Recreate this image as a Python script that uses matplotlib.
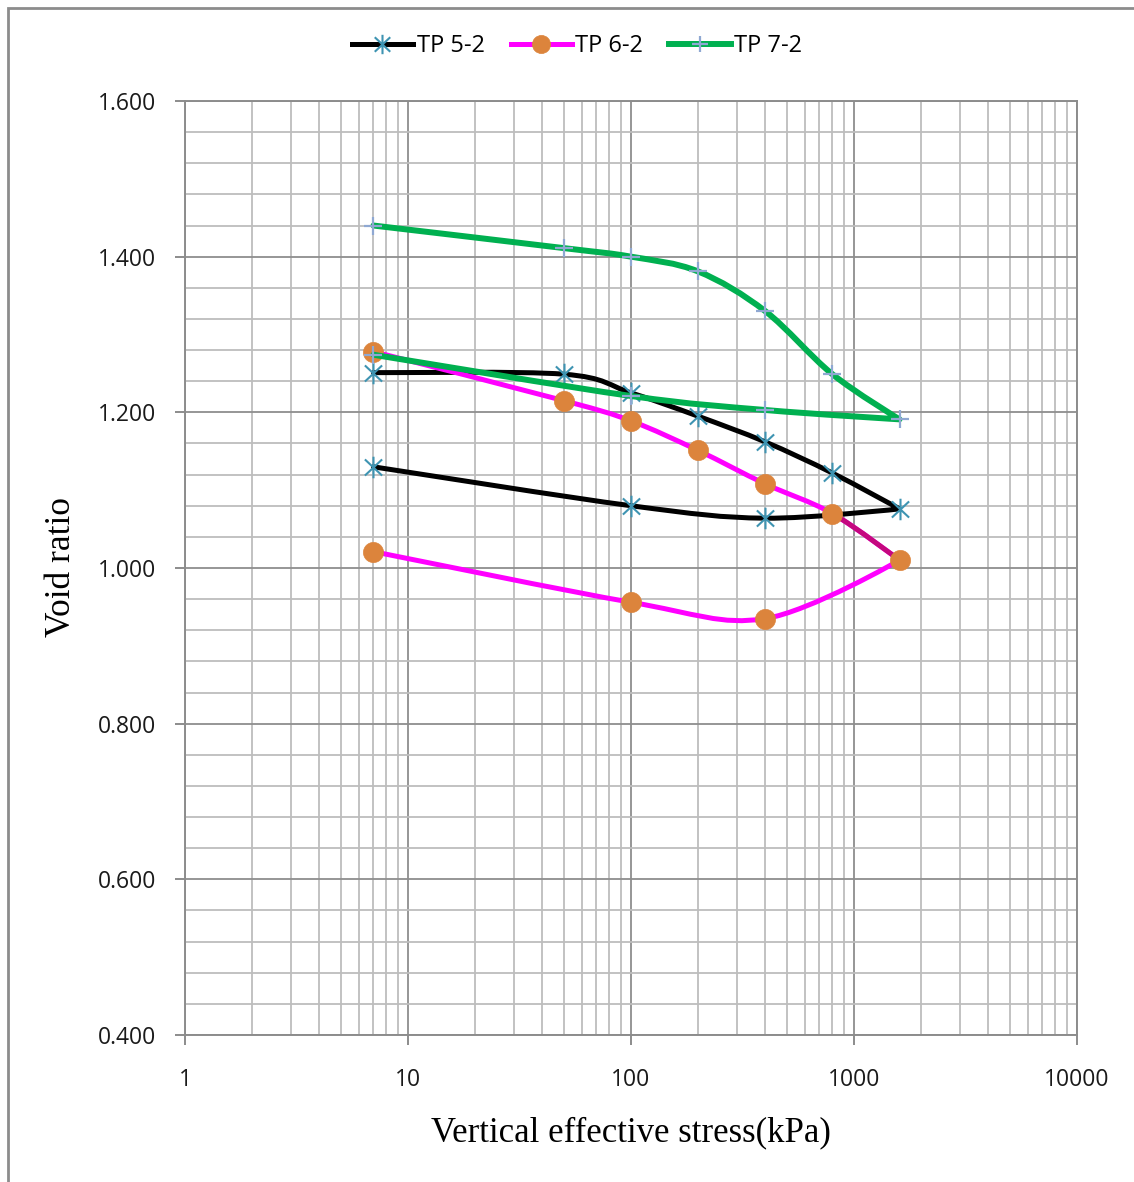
import numpy as np
import matplotlib
matplotlib.use("Agg")
import matplotlib.pyplot as plt
from matplotlib.path import Path
from matplotlib.patches import PathPatch, Rectangle
from matplotlib.lines import Line2D
from matplotlib.ticker import MultipleLocator, LogLocator, NullFormatter, FixedLocator, FixedFormatter

# ---------------- data ----------------
series_names = ["TP 5-2", "TP 6-2", "TP 7-2"]
stress = [7, 50, 100, 200, 400, 800, 1600, 400, 100, 7]
void_tp52 = [1.251, 1.249, 1.225, 1.195, 1.162, 1.122, 1.076, 1.064, 1.080, 1.130]
void_tp62 = [1.278, 1.215, 1.189, 1.151, 1.108, 1.070, 1.010, 0.935, 0.956, 1.021]
void_tp72 = [1.440, 1.411, 1.400, 1.381, 1.330, 1.249, 1.191, 1.203, 1.221, 1.274]
x_ticks = [1, 10, 100, 1000, 10000]
x_tick_labels = ["1", "10", "100", "1000", "10000"]
y_ticks = [0.4, 0.6, 0.8, 1.0, 1.2, 1.4, 1.6]
y_tick_labels = ["0.400", "0.600", "0.800", "1.000", "1.200", "1.400", "1.600"]

# ---------------- style ----------------
W, H = 1134, 1182
fig = plt.figure(figsize=(W / 100, H / 100), dpi=100)
ax = fig.add_axes([185 / W, 1 - 1035 / H, (1077 - 185) / W, (1035 - 101) / H])

tick_font = "Open Sans"
label_font = "Liberation Serif"


def smooth_path(xs, ys, i0=0, i1=None):
    """Excel-like smoothed line: cubic Bezier segments with Catmull-Rom
    control points computed in (log10 x, y) space; sharp corner where the
    stress path reverses."""
    u = np.log10(np.asarray(xs, float))
    v = np.asarray(ys, float)
    n = len(u)
    if i1 is None:
        i1 = n - 1

    def tangent(i):
        a = max(i - 1, 0)
        b = min(i + 1, n - 1)
        if 0 < i < n - 1 and (u[i + 1] - u[i]) * (u[i] - u[i - 1]) < 0:
            return 0.0, 0.0
        return (u[b] - u[a]) / 6.0, (v[b] - v[a]) / 6.0

    verts = [(xs[i0], ys[i0])]
    codes = [Path.MOVETO]
    for i in range(i0, i1):
        t1 = tangent(i)
        t2 = tangent(i + 1)
        c1u, c1v = u[i] + t1[0], v[i] + t1[1]
        c2u, c2v = u[i + 1] - t2[0], v[i + 1] - t2[1]
        verts += [(10 ** c1u, c1v), (10 ** c2u, c2v), (xs[i + 1], ys[i + 1])]
        codes += [Path.CURVE4] * 3
    return Path(verts, codes)


asterisk = Path([(0, -1), (0, 1), (-0.8, -0.75), (0.8, 0.75), (-0.8, 0.75), (0.8, -0.75)],
                [Path.MOVETO, Path.LINETO, Path.MOVETO, Path.LINETO, Path.MOVETO, Path.LINETO])

styles = [
    dict(line="#000000", lw=3.6, marker=asterisk, ms=15.5, mfc="none", mec="#3E94B2", mew=1.5),
    dict(line="#FF00FF", lw=3.6, marker="o", ms=14.5, mfc="#DC843C", mec="#DC843C", mew=0.5),
    dict(line="#00B050", lw=4.3, marker="+", ms=13.5, mfc="none", mec="#8FA8D2", mew=1.6),
]
all_voids = [void_tp52, void_tp62, void_tp72]

ax.set_xscale("log")
ax.set_xlim(1, 10000)
ax.set_ylim(0.4, 1.6)

z = 3
for name, vals, st in zip(series_names, all_voids, styles):
    pp = PathPatch(smooth_path(stress, vals), fill=False, edgecolor=st["line"],
                   lw=st["lw"], capstyle="round", joinstyle="round", zorder=z)
    ax.add_patch(pp)
    if name == "TP 6-2":
        seg = PathPatch(smooth_path(stress, vals, 5, 6), fill=False, edgecolor="#C4087E",
                        lw=st["lw"], capstyle="round", zorder=z + 0.1)
        ax.add_patch(seg)
    ax.plot(stress, vals, linestyle="none", marker=st["marker"], ms=st["ms"],
            mfc=st["mfc"], mec=st["mec"], mew=st["mew"], zorder=z + 0.5)
    z += 1

# grid
ax.yaxis.set_major_locator(FixedLocator(y_ticks))
ax.yaxis.set_major_formatter(FixedFormatter(y_tick_labels))
ax.yaxis.set_minor_locator(MultipleLocator(0.04))
ax.xaxis.set_major_locator(FixedLocator(x_ticks))
ax.xaxis.set_major_formatter(FixedFormatter(x_tick_labels))
ax.xaxis.set_minor_locator(LogLocator(base=10, subs=np.arange(2, 10), numticks=20))
ax.xaxis.set_minor_formatter(NullFormatter())
ax.grid(True, which="major", color="#8E8E8E", lw=1.3, zorder=0)
ax.grid(True, which="minor", color="#BDBDBD", lw=1.3, zorder=0)
ax.set_axisbelow(True)
for s in ["left", "bottom", "top", "right"]:
    ax.spines[s].set_color("#8C8C8C")
    ax.spines[s].set_linewidth(1.4)
ax.tick_params(which="major", direction="out", length=7, width=1.4, color="#8C8C8C",
               labelsize=16.5, labelcolor="#1A1A1A")
ax.tick_params(which="minor", length=0)
ax.tick_params(axis="y", pad=14)
ax.tick_params(axis="x", pad=17)
for lab in ax.get_xticklabels() + ax.get_yticklabels():
    lab.set_fontfamily(tick_font)

fig.text(631 / W, 1 - 1133 / H, "Vertical effective stress(kPa)", ha="center", va="center",
         fontsize=25, family=label_font, color="#000000")
fig.text(62 / W, 1 - 567 / H, "Void ratio", ha="center", va="center", rotation=90,
         fontsize=25.5, family=label_font, color="#000000")

# legend
handles = [Line2D([], [], color=st["line"], lw=st["lw"], marker=st["marker"], ms=st["ms"] * 0.9,
                  mfc=st["mfc"], mec=st["mec"], mew=st["mew"]) for st in styles]
leg = fig.legend(handles, series_names, loc="center", bbox_to_anchor=(577 / W, 1 - 46 / H),
                 ncol=3, frameon=False, handlelength=2.6, handletextpad=0.15,
                 columnspacing=1.1, prop={"family": tick_font, "size": 17})

# outer chart border
fig.patches.append(Rectangle((7.5 / W, -0.05), 1.2, 1 - 8 / H + 0.05, transform=fig.transFigure,
                             fill=False, edgecolor="#8C8C8C", lw=2.0, zorder=-1))

fig.savefig("out.png", dpi=100, facecolor="white")
